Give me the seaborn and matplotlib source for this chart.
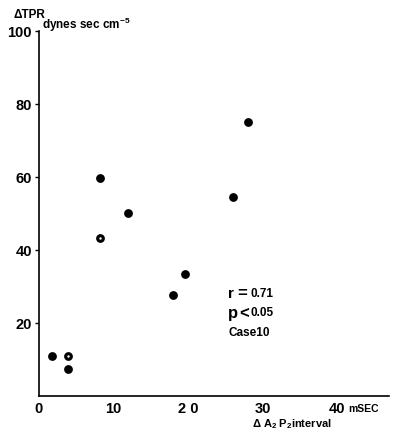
import numpy as np
import pandas as pd
import seaborn as sns
import matplotlib.pyplot as plt

# Valores (Case 10)
delta_a2p2 = [1.8, 3.9, 3.9, 8.2, 8.2, 11.9, 18.0, 19.6, 26.1, 28.0]
delta_tpr = [11.1, 11.1, 7.4, 59.8, 43.4, 50.2, 27.7, 33.5, 54.5, 75.1]
# pontos com centro branco
open_x = [3.9, 8.2]
open_y = [11.1, 43.4]

x_ticks = [0, 10, 20, 30, 40]
x_labels = ['0', '10', '2 0', '30', '40']
y_ticks = [20, 40, 60, 80, 100]

df = pd.DataFrame({'a2p2': delta_a2p2, 'tpr': delta_tpr})

sns.set_style('white')
plt.rcParams['font.family'] = ['Liberation Sans', 'DejaVu Sans']
plt.rcParams['font.weight'] = 'bold'
plt.rcParams['mathtext.default'] = 'regular'
plt.rcParams['text.color'] = 'black'
plt.rcParams['xtick.color'] = 'black'
plt.rcParams['ytick.color'] = 'black'

fig = plt.figure(figsize=(3.93, 4.32), dpi=100)
ax = fig.add_axes([0.099, 0.083, 0.891, 0.845])

sns.scatterplot(data=df, x='a2p2', y='tpr', color='black', s=40, edgecolor='black', linewidth=0, ax=ax)
ax.scatter(open_x, open_y, color='white', s=3, linewidth=0, zorder=5)

ax.set_xlim(0, 47)
ax.set_ylim(0, 100)
ax.set_xticks(x_ticks)
ax.set_xticklabels(x_labels, fontsize=10.5, fontweight='bold')
ax.set_yticks(y_ticks)
ax.set_yticklabels([str(v) for v in y_ticks], fontsize=10.5, fontweight='bold')
ax.tick_params(axis='x', length=0, pad=4)
ax.tick_params(axis='y', length=3, width=1, direction='out', pad=2, left=True)
ax.set_xlabel('')
ax.set_ylabel('')

sns.despine(ax=ax)
for side in ['left', 'bottom']:
    ax.spines[side].set_linewidth(1.2)
    ax.spines[side].set_color('black')

# Rótulos dos eixos
fig.text(0.035, 0.965, '\u0394TPR', fontsize=8.5, fontweight='bold', va='center', ha='left')
fig.text(0.108, 0.942, 'dynes sec cm$^{-5}$', fontsize=8.5, fontweight='bold', va='center', ha='left')
fig.text(0.885, 0.054, 'mSEC', fontsize=7.5, fontweight='bold', va='center', ha='left')
fig.text(0.64, 0.018, '\u0394 A$_2$ P$_2$interval', fontsize=8, fontweight='bold', va='center', ha='left')

# Estatística
ax.text(25.4, 28, 'r', fontsize=11, fontweight='bold', va='center')
ax.text(26.6, 28, '=', fontsize=12, fontweight='bold', va='center')
ax.text(28.4, 28, '0.71', fontsize=8.5, fontweight='bold', va='center')
ax.text(25.4, 22.7, 'p', fontsize=12, fontweight='bold', va='center')
ax.text(26.9, 22.7, '<', fontsize=12, fontweight='bold', va='center')
ax.text(28.4, 22.7, '0.05', fontsize=8.5, fontweight='bold', va='center')
ax.text(25.4, 17.2, 'Case10', fontsize=8.5, fontweight='bold', va='center')

plt.savefig('out.png', dpi=100)
